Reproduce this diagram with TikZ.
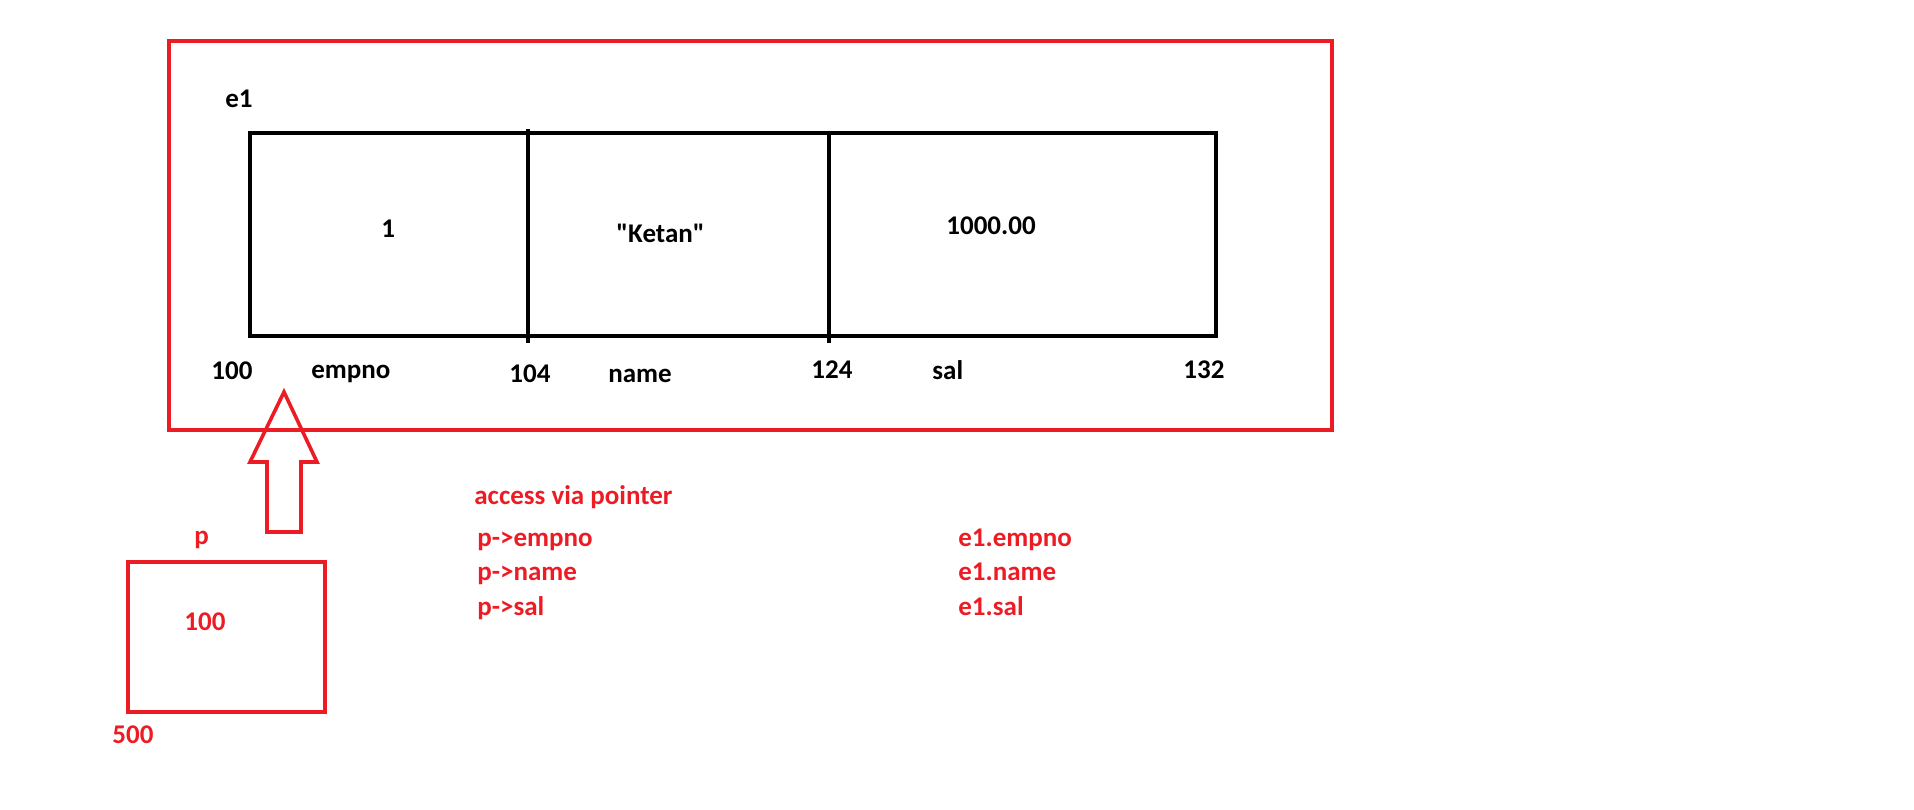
\documentclass[tikz,border=0pt]{standalone}
\usepackage{fontspec}
\newfontfamily\cf{Carlito}
\definecolor{pred}{HTML}{ED1C24}
\begin{document}
\begin{tikzpicture}[x=0.5pt,y=-0.5pt,
  lbl/.style={anchor=base west, inner sep=0pt, font=\cf\bfseries\fontsize{13.5}{16}\selectfont},
  blk/.style={lbl, text=black},
  rd/.style={lbl, text=pred},
  redline/.style={draw=pred, line width=2pt},
  blkline/.style={draw=black, line width=2pt}]
\useasboundingbox (0,0) rectangle (1914,809);
% outer struct frame
\draw[redline] (169,41) rectangle (1332,430);
% struct memory
\draw[blkline] (250,133) rectangle (1216,336);
\draw[blkline] (528,129) -- (528,343);
\draw[blkline] (829,133) -- (829,343);
\node[blk] (e1) at (225,107) {e1};
\node[blk] (v1) at (381,237) {1};
\node[blk] (v2) at (616,242) {"Ketan"};
\node[blk] (v3) at (946,234) {1000.00};
\node[blk] (a100) at (211,379) {100};
\node[blk] (fempno) at (311,378) {empno};
\node[blk] (a104) at (509,382) {104};
\node[blk] (fname) at (608,382) {name};
\node[blk] (a124) at (811,378) {124};
\node[blk] (fsal) at (932,379) {sal};
\node[blk] (a132) at (1183,378) {132};
% block arrow
\draw[redline, line width=1.8pt] (284,392) -- (317,462) -- (301,462) -- (301,532) -- (267,532) -- (267,462) -- (250,462) -- cycle;
% pointer
\draw[redline] (128,562) rectangle (325,712);
\node[rd] (p) at (194,544) {p};
\node[rd] (pv) at (184,630) {100};
\node[rd] (pa) at (112,743) {500};
% access text
\node[rd] (acc) at (474,504) {access via pointer};
\node[rd] (pe) at (477,546) {p->empno};
\node[rd] (pn) at (477,580) {p->name};
\node[rd] (ps) at (477,615) {p->sal};
\node[rd] (ee) at (958,546) {e1.empno};
\node[rd] (en) at (958,580) {e1.name};
\node[rd] (es) at (958,615) {e1.sal};
\end{tikzpicture}
\end{document}
